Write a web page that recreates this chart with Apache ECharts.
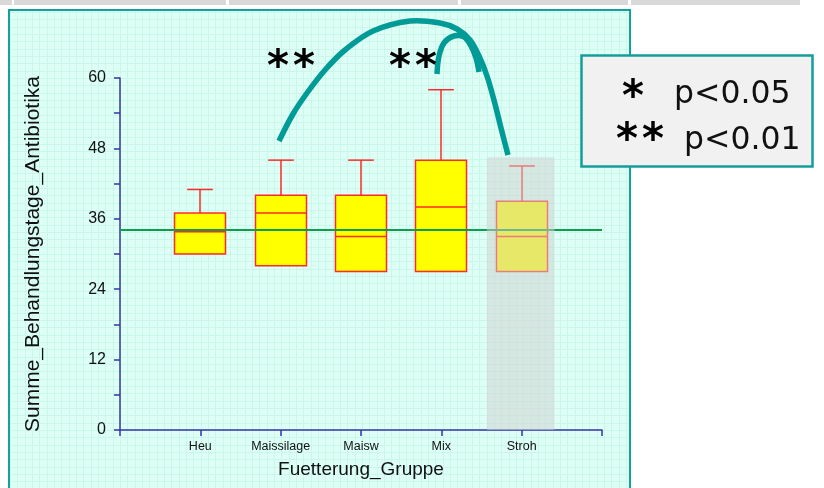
<!DOCTYPE html>
<html>
<head>
<meta charset="utf-8">
<script src="https://cdn.jsdelivr.net/npm/echarts@6/dist/echarts.min.js"></script>
<style>
  html, body { margin: 0; padding: 0; background: #ffffff; }
  #chart { width: 824px; height: 488px; }
</style>
</head>
<body>
<div id="chart"></div>
<script>
// Treatment days with antibiotics per feeding group (box plot summary)
const categories = ['Heu', 'Maissilage', 'Maisw', 'Mix', 'Stroh'];
const whiskerLow  = [30, 28, 27, 27, 27];
const q1          = [30, 28, 27, 27, 27];
const median      = [33.8, 37, 33, 38, 33];
const q3          = [37, 40, 40, 46, 39];
const whiskerHigh = [41, 46, 46, 58, 45];
const overallLine = 34.1;
const yTickLabels = [0, 12, 24, 36, 48, 60];
const highlightGroup = 'Stroh';
const highlightTop = 46.5;
const legendLines = ['p<0.05', 'p<0.01'];

const axisCategories = [''].concat(categories, ['']);
const boxData = categories.map((c, i) => [i + 1, whiskerLow[i], q1[i], median[i], q3[i], whiskerHigh[i]]);
const highlightData = [[categories.indexOf(highlightGroup) + 1, highlightTop]];

// Page background: grey strip, light cyan panel with a fine grid and teal frame
function buildBackground() {
  const c = document.createElement('canvas');
  c.width = 824; c.height = 488;
  const ctx = c.getContext('2d');
  ctx.fillStyle = '#ffffff';
  ctx.fillRect(0, 0, 824, 488);
  ctx.fillStyle = '#d9d9d9';
  [[0, 12], [14, 226], [229, 458], [461, 628], [631, 800]].forEach(s => ctx.fillRect(s[0], 0, s[1] - s[0], 5));
  ctx.fillStyle = '#ddfff5';
  ctx.fillRect(9, 10, 622, 478);
  ctx.strokeStyle = '#c9f8ea';
  ctx.lineWidth = 1;
  const step = 352 / 48;
  for (let x = 120 - step * 15; x < 631; x += step) {
    if (x < 10) continue;
    const xx = Math.round(x) + 0.5;
    ctx.beginPath(); ctx.moveTo(xx, 11); ctx.lineTo(xx, 488); ctx.stroke();
  }
  for (let y = 430 + step * 8; y > 10; y -= step) {
    if (y > 488) continue;
    const yy = Math.round(y) + 0.5;
    ctx.beginPath(); ctx.moveTo(10, yy); ctx.lineTo(630, yy); ctx.stroke();
  }
  ctx.strokeStyle = '#12a19b';
  ctx.lineWidth = 2;
  ctx.beginPath();
  ctx.moveTo(9, 490); ctx.lineTo(9, 10); ctx.lineTo(630, 10); ctx.lineTo(630, 490);
  ctx.stroke();
  return c;
}

const chart = echarts.init(document.getElementById('chart'));

function renderBox(params, api) {
  const x = api.value(0);
  const band = api.size([1, 0])[0];
  const bw = band * 0.635;
  const cw = band * 0.32;
  const pLow = api.coord([x, api.value(1)]);
  const pQ1 = api.coord([x, api.value(2)]);
  const pMed = api.coord([x, api.value(3)]);
  const pQ3 = api.coord([x, api.value(4)]);
  const pHigh = api.coord([x, api.value(5)]);
  const cx = Math.round(pQ1[0]);
  const lineStyle = { stroke: '#ff2a2a', lineWidth: 1.5, fill: null };
  const children = [
    { type: 'line', shape: { x1: cx, y1: pQ3[1], x2: cx, y2: pHigh[1] }, style: lineStyle },
    { type: 'line', shape: { x1: cx - cw / 2, y1: pHigh[1], x2: cx + cw / 2, y2: pHigh[1] }, style: lineStyle },
    { type: 'rect', shape: { x: cx - bw / 2, y: pQ3[1], width: bw, height: pQ1[1] - pQ3[1] },
      style: { fill: '#ffff00', stroke: '#ff2a2a', lineWidth: 1.5 } },
    { type: 'line', shape: { x1: cx - bw / 2, y1: pMed[1], x2: cx + bw / 2, y2: pMed[1] }, style: lineStyle }
  ];
  if (api.value(1) < api.value(2)) {
    children.push({ type: 'line', shape: { x1: cx, y1: pQ1[1], x2: cx, y2: pLow[1] }, style: lineStyle });
    children.push({ type: 'line', shape: { x1: cx - cw / 2, y1: pLow[1], x2: cx + cw / 2, y2: pLow[1] }, style: lineStyle });
  }
  return { type: 'group', children: children };
}

function renderHighlight(params, api) {
  const x = api.value(0);
  const band = api.size([1, 0])[0];
  const w = band * 0.84;
  const top = api.coord([x, api.value(1)]);
  const bottom = api.coord([x, 0]);
  return {
    type: 'rect',
    shape: { x: top[0] - w / 2 - 1, y: top[1], width: w, height: bottom[1] - top[1] },
    style: { fill: 'rgba(208,208,208,0.5)' }
  };
}

const teal = '#009b96';
const starFont = 'bold 42px "DejaVu Sans"';
const legendFont = '31.5px "DejaVu Sans"';

// One bold asterisk glyph per element so the pair spacing can be set freely
function stars(count, x, y, gap, z) {
  const out = [];
  for (let i = 0; i < count; i++) {
    out.push({ type: 'text', z: z, silent: true,
      style: { text: '*', x: x + i * gap, y: y, font: starFont, fill: '#000', verticalAlign: 'middle' } });
  }
  return out;
}

const option = {
  animation: false,
  grid: { left: 120, right: 222, top: 78, bottom: 58 },
  xAxis: {
    type: 'category',
    data: axisCategories,
    boundaryGap: false,
    name: 'Fuetterung_Gruppe',
    nameLocation: 'middle',
    nameGap: 30,
    nameTextStyle: { fontFamily: 'Liberation Sans', fontSize: 19, color: '#111' },
    axisLine: { lineStyle: { color: '#3434a6', width: 1.5 } },
    axisTick: { show: true, length: 6, lineStyle: { color: '#3434a6', width: 1.5 } },
    axisLabel: { fontFamily: 'Liberation Sans', fontSize: 12.5, color: '#111', margin: 10, interval: 0 },
    splitLine: { show: false }
  },
  yAxis: {
    type: 'value',
    min: 0, max: 60, interval: 6,
    name: 'Summe_Behandlungstage_Antibiotika',
    nameLocation: 'middle',
    nameGap: 76,
    nameTextStyle: { fontFamily: 'Liberation Sans', fontSize: 21, color: '#111' },
    axisLine: { show: true, lineStyle: { color: '#3434a6', width: 1.5 } },
    axisTick: { show: true, length: 6, lineStyle: { color: '#3434a6', width: 1.5 } },
    axisLabel: {
      fontFamily: 'Liberation Sans', fontSize: 16, color: '#111', margin: 14,
      formatter: v => (yTickLabels.indexOf(v) >= 0 ? String(v) : '')
    },
    splitLine: { show: false }
  },
  series: [
    {
      type: 'custom', name: 'box', z: 2,
      renderItem: renderBox,
      encode: { x: 0, y: [1, 2, 3, 4, 5] },
      data: boxData
    },
    {
      type: 'line', name: 'mean', z: 3, data: [], symbol: 'none',
      markLine: {
        silent: true, symbol: ['none', 'none'], label: { show: false },
        lineStyle: { color: '#0aa04a', width: 2, type: 'solid' },
        data: [{ yAxis: overallLine }]
      }
    },
    {
      type: 'custom', name: 'highlight', z: 5,
      renderItem: renderHighlight,
      encode: { x: 0, y: 1 },
      data: highlightData
    }
  ],
  graphic: [
    { type: 'image', z: -100, silent: true, style: { image: buildBackground(), x: 0, y: 0, width: 824, height: 488 } },
    { type: 'polyline', z: 50, silent: true,
      shape: { points: [[279, 141], [293, 114], [307, 93], [325, 70], [345, 50], [373, 31], [410, 21], [440, 23], [457, 29], [470, 40], [479, 56], [487, 76], [495, 104], [501, 128], [508, 155]], smooth: 0.35 },
      style: { stroke: teal, lineWidth: 5.5, fill: null } },
    { type: 'polyline', z: 50, silent: true,
      shape: { points: [[437, 74], [439, 56], [444, 43], [454, 36], [464, 37], [471, 46], [476, 58], [479, 72]], smooth: 0.35 },
      style: { stroke: teal, lineWidth: 5.5, fill: null } }
  ].concat(
    stars(2, 267, 69, 26, 50),
    stars(2, 389, 69, 26, 50),
    [
      { type: 'rect', z: 60, silent: true, shape: { x: 581.5, y: 55.5, width: 231, height: 111 },
        style: { fill: '#f1f1f1', stroke: '#139e9a', lineWidth: 2.5 } },
      { type: 'text', z: 61, silent: true, style: { text: legendLines[0], x: 674, y: 94.5, font: legendFont, fill: '#111', verticalAlign: 'middle' } },
      { type: 'text', z: 61, silent: true, style: { text: legendLines[1], x: 684, y: 141, font: legendFont, fill: '#111', verticalAlign: 'middle' } }
    ],
    stars(1, 622, 99, 26, 61),
    stars(2, 616, 142, 26, 61)
  )
};

chart.setOption(option);
</script>
</body>
</html>
